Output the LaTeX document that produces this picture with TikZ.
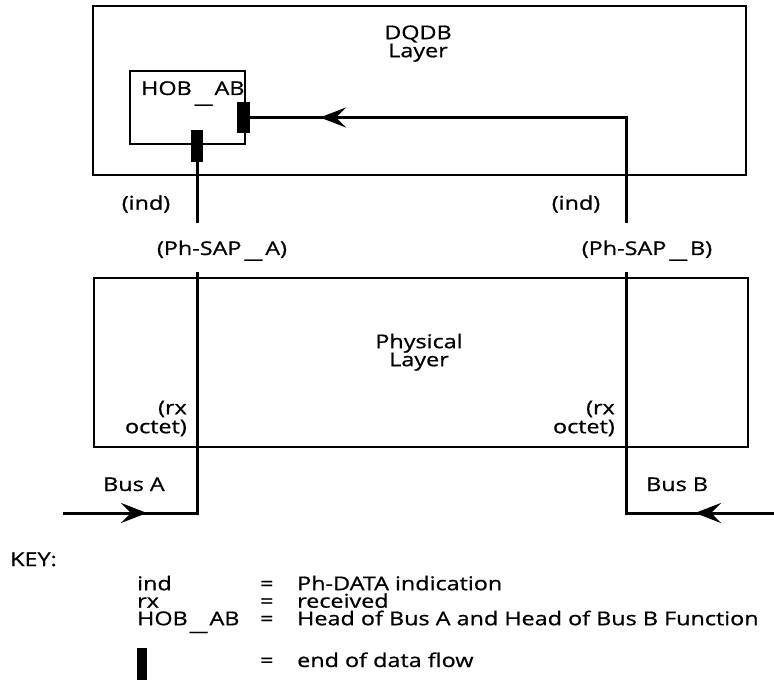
\documentclass[tikz,border=0pt]{standalone}
\usepackage{graphicx}
\usepackage{fontspec}
\setmainfont{Open Sans}[FakeStretch=1.23,FakeBold=0.8]
\usetikzlibrary{arrows.meta}
\newcommand\myfontA{\fontsize{19}{17}\selectfont\setlength{\lineskiplimit}{-50pt}\relax}
\newcommand\myfontP{\fontsize{19}{18}\selectfont\setlength{\lineskiplimit}{-50pt}\relax}
\newcommand\myfontB{\fontsize{19}{17.5}\selectfont\setlength{\lineskiplimit}{-50pt}\relax}
\newcommand\myfontC{\fontsize{19}{19}\selectfont\setlength{\lineskiplimit}{-50pt}\relax}
\newcommand\toprule{\rule{0pt}{20pt}}
\newcommand\usc[1]{\raisebox{#1}{\scalebox{1.7}[1]{\_}}}
\begin{document}
\begin{tikzpicture}[x=1pt,y=-1pt,
  boxline/.style={draw,line width=1.6pt,inner sep=0pt},
  flow/.style={line width=3pt},
  flowarrow/.style={line width=3pt,-{Stealth[length=26pt,width=20pt,inset=10pt]}},
  endmark/.style={fill=black,draw=none,inner sep=0pt,outer sep=0pt},
  lbl/.style={font=\myfontA,inner sep=0pt},
  keylbl/.style={font=\myfontB,inner sep=0pt,align=left,anchor=north west},
]
\useasboundingbox (0,0) rectangle (774,684);
\fill[white] (0,0) rectangle (774,684);

% boxes
\node[boxline,minimum width=653pt,minimum height=169pt] (dqdbbox) at (419.5,90.5) {};
\node[boxline,minimum width=115pt,minimum height=73pt] (hobbox) at (187.5,107.5) {};
\node[boxline,minimum width=654pt,minimum height=169pt] (physbox) at (421,362.5) {};

% labels in boxes
\node[lbl,font=\myfontP,align=center,anchor=north] (dqdbtxt) at (418,19) {\toprule DQDB\\Layer};
\node[lbl,anchor=base west] (hobtxt) at (141,95) {HOB\hspace{3pt}\usc{-8pt}\hspace{2pt}AB};
\node[lbl,font=\myfontP,align=center,anchor=north] (phystxt) at (419,328) {\toprule Physical\\Layer};
\node[lbl,font=\myfontC,align=right,anchor=north east] (rxA) at (187,394) {\toprule (rx\\octet)};
\node[lbl,font=\myfontC,align=right,anchor=north east] (rxB) at (615,394) {\toprule (rx\\octet)};

% end-of-flow markers
\node[endmark,minimum width=12pt,minimum height=32pt] (m1) at (197,146) {};
\node[endmark,minimum width=13pt,minimum height=31pt] (m2) at (243.5,117.5) {};

% coordinates
\coordinate (rtop) at (626,117.5);
\coordinate (tipB1) at (320,117.5);
\coordinate (indAend) at (197,223);
\coordinate (indBend) at (626,223);
\coordinate (sapA) at (197,272);
\coordinate (sapB) at (626,272);
\coordinate (cornA) at (197,513);
\coordinate (cornB) at (626,513);
\coordinate (startA) at (63,513);
\coordinate (startB) at (774,513);
\coordinate (tipA) at (147,513);
\coordinate (tipB) at (695,513);

% flows
\draw[flow] (m2.east) -- (rtop) -- (indBend);
\draw[flowarrow] (rtop) -- (tipB1);
\draw[flow] (m1.south) -- (indAend);
\draw[flow] (sapA) -- (cornA) -- (startA);
\draw[flowarrow] (startA) -- (tipA);
\draw[flow] (sapB) -- (cornB) -- (startB);
\draw[flowarrow] (startB) -- (tipB);

% labels between layers
\node[lbl] (indA) at (146,204) {(ind)};
\node[lbl] (indB) at (576,204) {(ind)};
\node[lbl,anchor=base] (psapA) at (222,255) {(Ph-SAP\hspace{3pt}\usc{-3pt}\hspace{3pt}A)};
\node[lbl,anchor=base] (psapB) at (647,255) {(Ph-SAP\hspace{3pt}\usc{-3pt}\hspace{3pt}B)};
\node[lbl,anchor=base west] (busA) at (103,491) {Bus A};
\node[lbl,anchor=base west] (busB) at (646,491) {Bus B};

% key
\node[lbl,anchor=base west] (key) at (10,566) {KEY:};
\node[keylbl] (kterms) at (137,570) {\toprule ind\\rx\\HOB\hspace{2pt}\usc{-5pt}\hspace{2pt}AB};
\node[keylbl] (keqs) at (260,570) {\toprule =\\=\\=};
\node[keylbl] (kdefs) at (297,570) {\toprule Ph-DATA indication\\received\\Head of Bus A and Head of Bus B Function};
\node[endmark,minimum width=10pt,minimum height=32pt] (k4) at (142,664) {};
\node[lbl,anchor=base west] (e4) at (260,667) {=};
\node[lbl,anchor=base west] (d4) at (297,667) {end of data flow};
\end{tikzpicture}
\end{document}
